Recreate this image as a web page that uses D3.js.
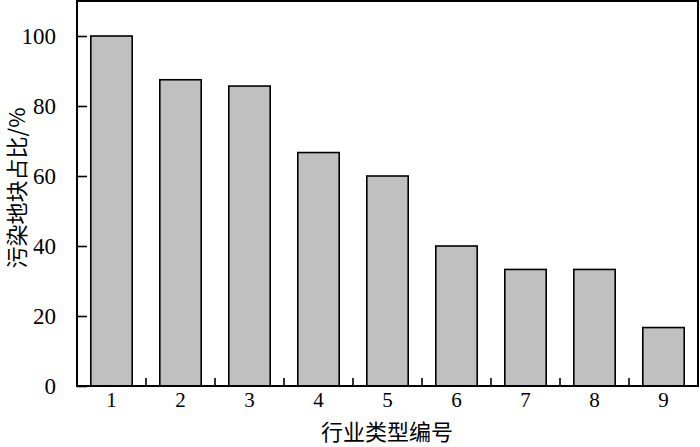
<!DOCTYPE html>
<html><head><meta charset="utf-8">
<script src="https://cdn.jsdelivr.net/npm/d3@7/dist/d3.min.js"></script>
<style>body{margin:0;background:#fff;}svg{display:block;}
.num{font-family:"Liberation Serif","Times New Roman","DejaVu Serif",serif;}
.cjk{font-family:"Noto Sans CJK SC",sans-serif;}
</style>
</head><body>
<svg id="chart" width="700" height="447"></svg>
<script>
const categories = ["1","2","3","4","5","6","7","8","9"];
const values = [100, 87.5, 85.7, 66.7, 60, 40, 33.3, 33.3, 16.7];
const yTicks = [0, 20, 40, 60, 80, 100];
const xTitle = "行业类型编号";
const yTitle = "污染地块占比/%";

const svg = d3.select("#chart");
const L = 77, R = 698, T = 1, B = 386;
const x = d3.scaleBand().domain(categories).range([L, R]).paddingInner(0.4).paddingOuter(0.2);
const xb = d3.scaleBand().domain(categories).range([L, R]);
const y = d3.scaleLinear().domain([0, 110]).range([B, T]);

// bars
svg.append("g").selectAll("rect").data(values).join("rect")
  .attr("x", (d,i) => x(categories[i]))
  .attr("width", x.bandwidth())
  .attr("y", d => y(d))
  .attr("height", d => y(0) - y(d))
  .attr("fill", "#c0c0c0")
  .attr("stroke", "#000")
  .attr("stroke-width", 1.6);

// inner category boundary ticks
const bounds = categories.slice(1).map(c => xb(c));
svg.append("g").selectAll("line").data(bounds).join("line")
  .attr("x1", d => d).attr("x2", d => d)
  .attr("y1", B).attr("y2", B - 8)
  .attr("stroke", "#000").attr("stroke-width", 1.6);

// y axis
const yAxis = d3.axisLeft(y).tickValues(yTicks).tickSizeInner(-10).tickSizeOuter(0).tickPadding(21);
const gy = svg.append("g").attr("transform", `translate(${L},0)`).call(yAxis);
gy.attr("font-family", null).attr("font-size", null);
gy.select(".domain").remove();
gy.selectAll(".tick line").attr("stroke", "#000").attr("stroke-width", 1.6);
gy.selectAll(".tick text").attr("class", "num").style("font-size", "23px").attr("fill", "#000");

// x axis labels
const xAxis = d3.axisBottom(xb).tickSize(0).tickPadding(6);
const gx = svg.append("g").attr("transform", `translate(0,${B})`).call(xAxis);
gx.attr("font-family", null).attr("font-size", null);
gx.select(".domain").remove();
gx.selectAll(".tick text").attr("class", "num").style("font-size", "21px").attr("fill", "#000");

// frame
svg.append("rect").attr("x", L).attr("y", T).attr("width", R - L).attr("height", B - T)
  .attr("fill", "none").attr("stroke", "#000").attr("stroke-width", 2);

// titles
svg.append("text").attr("class", "cjk").attr("x", 387).attr("y", 440)
  .attr("text-anchor", "middle").style("font-size", "22px")
  .attr("fill", "#000").text(xTitle);
svg.append("text").attr("class", "cjk").attr("transform", "translate(25,188) rotate(-90)")
  .attr("text-anchor", "middle").style("font-size", "22px")
  .attr("fill", "#000").text(yTitle);
</script>
</body></html>
